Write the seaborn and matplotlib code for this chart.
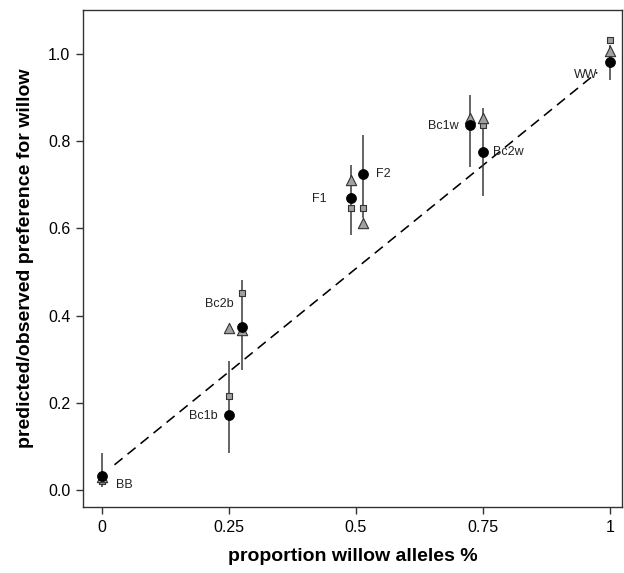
import matplotlib
matplotlib.use("Agg")
import matplotlib.pyplot as plt
import seaborn as sns
import pandas as pd

# hybrid classes and their proportion of willow alleles
groups = ["BB", "Bc1b", "Bc2b", "F1", "F2", "Bc1w", "Bc2w", "WW"]
prop_willow = [0.0, 0.25, 0.275, 0.49, 0.515, 0.725, 0.75, 1.0]

# observed preference (mean and error bar ends)
observed = [0.033, 0.173, 0.374, 0.670, 0.725, 0.837, 0.775, 0.982]
obs_low = [0.008, 0.085, 0.275, 0.585, 0.625, 0.742, 0.674, 0.940]
obs_high = [0.085, 0.295, 0.482, 0.745, 0.814, 0.907, 0.876, 1.020]

# predicted preferences, two models (squares and triangles)
pred_square = [0.020, 0.215, 0.453, 0.647, 0.647, 0.837, 0.837, 1.032]
pred_tri_x = [0.0, 0.25, 0.275, 0.49, 0.515, 0.725, 0.75, 1.0]
pred_tri = [0.030, 0.372, 0.367, 0.711, 0.613, 0.853, 0.853, 1.008]

# fitted line
line_x = [0.025, 0.975]
line_y = [0.058, 0.958]

# label placement per group: (dx, dy, ha)
label_pos = {
    "BB": (0.028, -0.022, "left"),
    "Bc1b": (-0.022, -0.003, "right"),
    "Bc2b": (-0.016, 0.052, "right"),
    "F1": (-0.048, -0.003, "right"),
    "F2": (0.025, 0.0, "left"),
    "Bc1w": (-0.022, -0.003, "right"),
    "Bc2w": (0.02, 0.0, "left"),
    "WW": (-0.024, -0.03, "right"),
}

sns.set_theme(style="ticks")
plt.rcParams["font.family"] = ["Liberation Sans", "DejaVu Sans"]

df = pd.DataFrame({"group": groups, "x": prop_willow, "obs": observed,
                   "lo": obs_low, "hi": obs_high, "sq": pred_square})
df_tri = pd.DataFrame({"x": pred_tri_x, "tri": pred_tri})

fig = plt.figure(figsize=(6.24, 5.73), dpi=100)
ax = fig.add_axes([0.133, 0.115, 0.864, 0.8675])

sns.lineplot(x=line_x, y=line_y, ax=ax, color="black", linestyle=(0, (6.5, 4)),
             linewidth=1.15, zorder=1)
ax.vlines(df["x"], df["lo"], df["hi"], color="#3a3a3a", linewidth=1.1, zorder=2)
sns.scatterplot(data=df, x="x", y="sq", ax=ax, marker="s", s=24,
                color="#a0a0a0", edgecolor="#333333", linewidth=0.8, zorder=3)
sns.scatterplot(data=df_tri, x="x", y="tri", ax=ax, marker="^", s=55,
                color="#a0a0a0", edgecolor="#333333", linewidth=0.8, zorder=4)
sns.scatterplot(data=df, x="x", y="obs", ax=ax, marker="o", s=52,
                color="black", edgecolor="black", linewidth=0.5, zorder=5)

for g, xv, yv in zip(groups, prop_willow, observed):
    dx, dy, ha = label_pos[g]
    ax.text(xv + dx, yv + dy, g, ha=ha, va="center", fontsize=9, color="#222222")

ax.set_xlim(-0.037, 1.024)
ax.set_ylim(-0.039, 1.101)
ax.set_xticks([0, 0.25, 0.5, 0.75, 1])
ax.set_xticklabels(["0", "0.25", "0.5", "0.75", "1"])
ax.set_yticks([0.0, 0.2, 0.4, 0.6, 0.8, 1.0])
ax.set_yticklabels(["0.0", "0.2", "0.4", "0.6", "0.8", "1.0"])
ax.tick_params(axis="both", direction="out", length=5, width=1,
               labelsize=11.5, color="#333333", labelcolor="black", pad=4)
for sp in ax.spines.values():
    sp.set_visible(True)
    sp.set_color("#333333")
    sp.set_linewidth(1.0)

ax.set_xlabel("proportion willow alleles %", fontsize=14, fontweight="bold",
              labelpad=10, color="black")
ax.set_ylabel("predicted/observed preference for willow", fontsize=14,
              fontweight="bold", labelpad=10, color="black")

fig.savefig("out.png", dpi=100)
